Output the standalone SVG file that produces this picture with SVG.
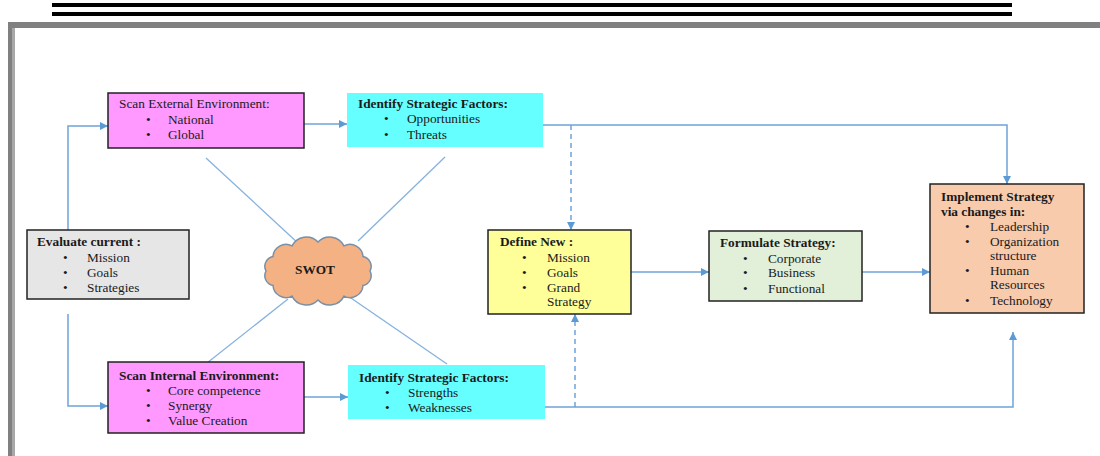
<svg xmlns="http://www.w3.org/2000/svg" width="1100" height="456" viewBox="0 0 1100 456">
<style>
.t{font-family:"Liberation Serif","Times New Roman",serif;font-size:13.3px;fill:#1a1a1a}
.b{font-weight:bold}
.box{stroke:#222;stroke-width:1.5}
.c{fill:none;stroke:#6fa3d8;stroke-width:1.5}
.d{fill:none;stroke:#6fa3d8;stroke-width:1.5;stroke-dasharray:5,4}
.s{fill:none;stroke:#86b2de;stroke-width:1.3}
</style>
<defs>
<marker id="ah" viewBox="0 0 10 10" refX="10" refY="5" markerWidth="9" markerHeight="8" markerUnits="userSpaceOnUse" orient="auto">
<path d="M0,0 L10,5 L0,10 z" fill="#5b9bd5"/>
</marker>
</defs>
<rect width="1100" height="456" fill="#fff"/>
<g id="frame">
<rect x="52" y="3" width="960" height="4" fill="#000"/>
<rect x="52" y="12" width="960" height="4" fill="#000"/>
<rect x="8" y="22" width="1092" height="6" fill="#808080"/>
<rect x="8" y="22" width="4" height="434" fill="#808080"/>
<rect x="12" y="28" width="3" height="428" fill="#a8a8a8"/>
</g>
<g id="swot-lines">
<line class="s" x1="206" y1="158" x2="299" y2="244"/>
<line class="s" x1="445" y1="157" x2="358" y2="241"/>
<line class="s" x1="207" y1="363" x2="288" y2="299"/>
<line class="s" x1="348" y1="296" x2="447" y2="364"/>
</g>
<g id="connectors">
<path class="c" d="M68,230 V126 H108" marker-end="url(#ah)"/>
<path class="c" d="M68,314 V406 H108" marker-end="url(#ah)"/>
<path class="c" d="M304,124 H347" marker-end="url(#ah)"/>
<path class="c" d="M543,125 H1007 V184" marker-end="url(#ah)"/>
<path class="d" d="M571,125 V230" marker-end="url(#ah)"/>
<path class="c" d="M631,272 H709" marker-end="url(#ah)"/>
<path class="c" d="M862,272 H930" marker-end="url(#ah)"/>
<path class="c" d="M304,397 H348" marker-end="url(#ah)"/>
<path class="c" d="M545,407 H1013 V332" marker-end="url(#ah)"/>
<path class="d" d="M575,407 V314" marker-end="url(#ah)"/>
</g>
<g id="scan-external">
<rect class="box" x="108" y="93" width="196" height="55" fill="#ff99ff"/>
<text class="t" x="119" y="108">Scan External Environment:</text>
<text class="t" x="146" y="124">•</text><text class="t" x="168" y="124">National</text>
<text class="t" x="146" y="139">•</text><text class="t" x="168" y="139">Global</text>
</g>
<g id="identify-ot">
<rect x="347" y="93" width="196" height="54" fill="#66ffff"/>
<text class="t b" x="358" y="108">Identify Strategic Factors:</text>
<text class="t" x="384" y="123">•</text><text class="t" x="407" y="123">Opportunities</text>
<text class="t" x="384" y="139">•</text><text class="t" x="407" y="139">Threats</text>
</g>
<g id="evaluate">
<rect class="box" x="27" y="230" width="162" height="69" fill="#e6e6e6"/>
<text class="t b" x="37" y="246">Evaluate current :</text>
<text class="t" x="63" y="262">•</text><text class="t" x="87" y="262">Mission</text>
<text class="t" x="63" y="277">•</text><text class="t" x="87" y="277">Goals</text>
<text class="t" x="63" y="292">•</text><text class="t" x="87" y="292">Strategies</text>
</g>
<g id="swot">
<path d="M370,271 A10,10 0 0,1 363,285.5 A13,13 0 0,1 344,296.1 A16,16 0 0,1 318,300 A16,16 0 0,1 292,296.1 A13,13 0 0,1 273,285.5 A10,10 0 0,1 266,271 A10,10 0 0,1 273,256.5 A13,13 0 0,1 292,245.9 A16,16 0 0,1 318,242 A16,16 0 0,1 344,245.9 A13,13 0 0,1 363,256.5 A10,10 0 0,1 370,271 Z" fill="#f4b183" stroke="#7890a8" stroke-width="1.5"/>
<text class="t b" x="315" y="274" text-anchor="middle">SWOT</text>
</g>
<g id="define-new">
<rect class="box" x="488" y="230" width="143" height="84" fill="#ffff99"/>
<text class="t b" x="500" y="246">Define New :</text>
<text class="t" x="522" y="262">•</text><text class="t" x="547" y="262">Mission</text>
<text class="t" x="522" y="277">•</text><text class="t" x="547" y="277">Goals</text>
<text class="t" x="522" y="292">•</text><text class="t" x="547" y="292">Grand</text>
<text class="t" x="547" y="306">Strategy</text>
</g>
<g id="formulate">
<rect class="box" x="709" y="231" width="153" height="70" fill="#e2efd9"/>
<text class="t b" x="720" y="247">Formulate Strategy:</text>
<text class="t" x="743" y="263">•</text><text class="t" x="768" y="263">Corporate</text>
<text class="t" x="743" y="277">•</text><text class="t" x="768" y="277">Business</text>
<text class="t" x="743" y="293">•</text><text class="t" x="768" y="293">Functional</text>
</g>
<g id="implement">
<rect class="box" x="930" y="184" width="154" height="129" fill="#f8cbad"/>
<text class="t b" x="941" y="201">Implement Strategy</text>
<text class="t b" x="941" y="216">via changes in:</text>
<text class="t" x="965" y="231">•</text><text class="t" x="990" y="231">Leadership</text>
<text class="t" x="965" y="246">•</text><text class="t" x="990" y="246">Organization</text>
<text class="t" x="990" y="260">structure</text>
<text class="t" x="965" y="275">•</text><text class="t" x="990" y="275">Human</text>
<text class="t" x="990" y="289">Resources</text>
<text class="t" x="965" y="305">•</text><text class="t" x="990" y="305">Technology</text>
</g>
<g id="scan-internal">
<rect class="box" x="108" y="362" width="196" height="71" fill="#ff99ff"/>
<text class="t b" x="119" y="380">Scan Internal Environment:</text>
<text class="t" x="146" y="395">•</text><text class="t" x="168" y="395">Core competence</text>
<text class="t" x="146" y="410">•</text><text class="t" x="168" y="410">Synergy</text>
<text class="t" x="146" y="425">•</text><text class="t" x="168" y="425">Value Creation</text>
</g>
<g id="identify-sw">
<rect x="348" y="365" width="197" height="54" fill="#66ffff"/>
<text class="t b" x="359" y="382">Identify Strategic Factors:</text>
<text class="t" x="385" y="397">•</text><text class="t" x="408" y="397">Strengths</text>
<text class="t" x="385" y="412">•</text><text class="t" x="408" y="412">Weaknesses</text>
</g>
</svg>
